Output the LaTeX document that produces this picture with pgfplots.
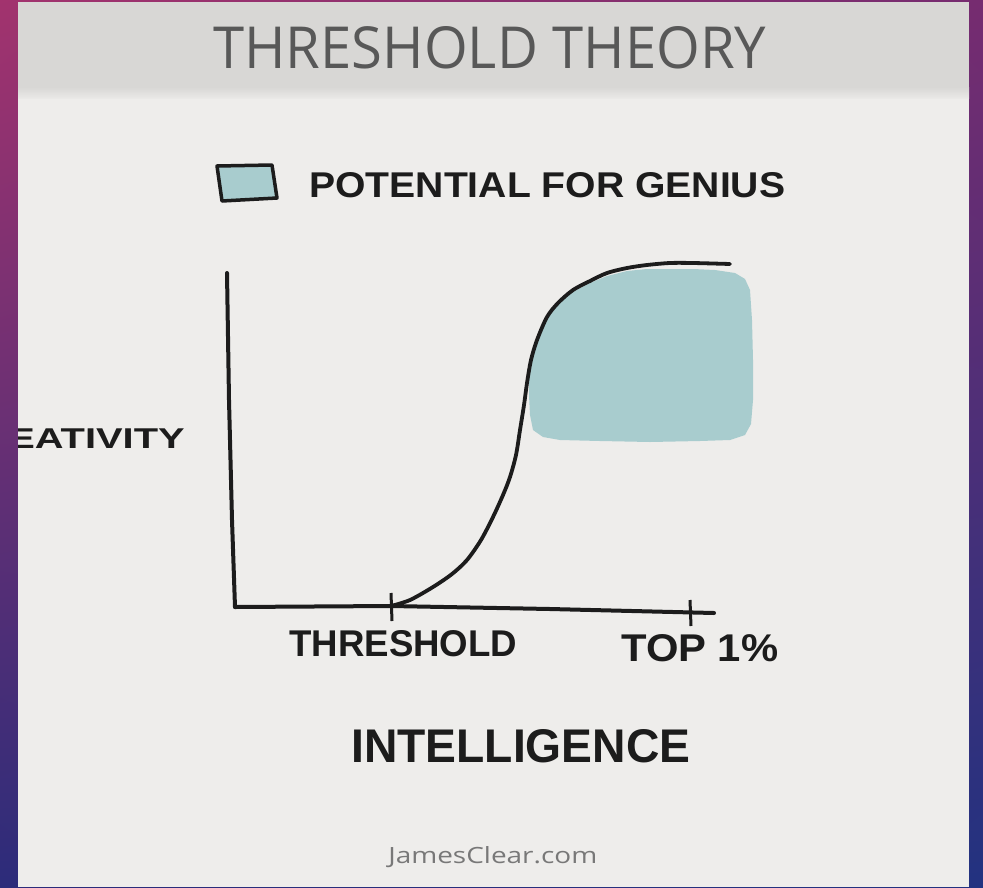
\documentclass[border=0pt]{standalone}
\usepackage{pgfplots}
\pgfplotsset{compat=1.18}
\usetikzlibrary{shadings}
\usepackage{graphicx}
\usepackage{fontspec}
\setmainfont{Liberation Sans}
\newfontfamily\titlefont{Open Sans}
\newlength\px \setlength\px{0.25mm}
\definecolor{bgTL}{RGB}{162,51,110}
\definecolor{bgTR}{RGB}{118,44,112}
\definecolor{bgBL}{RGB}{44,44,122}
\definecolor{bgBR}{RGB}{34,50,128}
\definecolor{panel}{RGB}{238,237,235}
\definecolor{band}{RGB}{216,215,213}
\definecolor{titlegray}{RGB}{88,88,88}
\definecolor{genius}{RGB}{168,204,206}
\definecolor{ink}{RGB}{28,28,28}
\definecolor{credit}{RGB}{120,120,120}
\begin{document}
\begin{tikzpicture}
\begin{axis}[
  width=983\px, height=887\px, scale only axis,
  xmin=0, xmax=983, ymin=0, ymax=887, y dir=reverse,
  hide axis, clip=false, enlargelimits=false]
% background slide and panel
\shade[upper left=bgTL, upper right=bgTR, lower left=bgBL, lower right=bgBR]
  (axis cs:0,0) rectangle (axis cs:983,887);
\fill[panel] (axis cs:18,2) rectangle (axis cs:969,887);
\fill[band] (axis cs:18,2) rectangle (axis cs:969,87);
\shade[top color=band, bottom color=panel!80!band] (axis cs:18,87) rectangle (axis cs:969,98);
% title
\node[anchor=base west, inner sep=0pt, text=titlegray] at (axis cs:213,68)
  {\resizebox{553\px}{42\px}{\titlefont THRESHOLD THEORY}};
% legend
\addplot[fill=genius, draw=ink, line width=3.5\px, line join=round, forget plot]
  coordinates {(217,166) (272,165) (277,198) (222,201)} -- cycle;
\node[anchor=base west, inner sep=0pt, text=ink] at (axis cs:309,197)
  {\resizebox{476\px}{25\px}{\bfseries POTENTIAL FOR GENIUS}};
% potential-for-genius area
\addplot[fill=genius, draw=none, forget plot] coordinates {
  (533,430) (530,415) (529,395) (529,372) (531,358) (537,339) (547,318)
  (558,304) (573,292) (590,283) (607,276) (627,271) (647,269) (670,269)
  (693,269) (715,270) (735,273) (745,279) (750,290) (752,320) (753,360)
  (753,400) (751,424) (745,435) (730,440) (700,441) (650,442) (600,441)
  (560,440) (543,437)} -- cycle;
% axes (hand drawn)
\addplot[ink, line width=4\px, line cap=round, forget plot]
  coordinates {(227,273) (229,400) (232,520) (235,607)};
\addplot[ink, line width=4\px, line cap=round, forget plot]
  coordinates {(235,607) (391,606) (550,609) (714,613)};
\addplot[ink, line width=3\px, forget plot] coordinates {(391,593) (392,621)};
\addplot[ink, line width=3\px, forget plot] coordinates {(690,600) (691,626)};
% threshold curve
\addplot[ink, line width=3.8\px, line cap=round, smooth, tension=0.5, forget plot] coordinates {
  (391,606) (410,600) (433,587) (452,574) (467,560) (481,540) (493,517)
  (503,495) (510,477) (516,455) (520,430) (524,405) (527,383) (531,360)
  (537,340) (547,317) (558,303) (573,290) (590,281) (607,273) (627,268)
  (647,265) (670,263) (693,263) (730,264)};
% axis labels
\begin{scope}
\clip (axis cs:18,2) rectangle (axis cs:969,887);
\node[anchor=base east, inner sep=0pt, text=ink] at (axis cs:185,448)
  {\resizebox{234\px}{20\px}{\bfseries CREATIVITY}};
\end{scope}
\node[anchor=base west, inner sep=0pt, text=ink] at (axis cs:289,656)
  {\resizebox{228\px}{26\px}{\bfseries THRESHOLD}};
\node[anchor=base west, inner sep=0pt, text=ink] at (axis cs:621,661)
  {\resizebox{157\px}{27\px}{\bfseries TOP 1\%}};
\node[anchor=base west, inner sep=0pt, text=ink] at (axis cs:351,762)
  {\resizebox{339\px}{33\px}{\bfseries INTELLIGENCE}};
\node[anchor=base west, inner sep=0pt, text=credit] at (axis cs:388,863)
  {\resizebox{209\px}{17\px}{\titlefont JamesClear.com}};
\end{axis}
\end{tikzpicture}
\end{document}
